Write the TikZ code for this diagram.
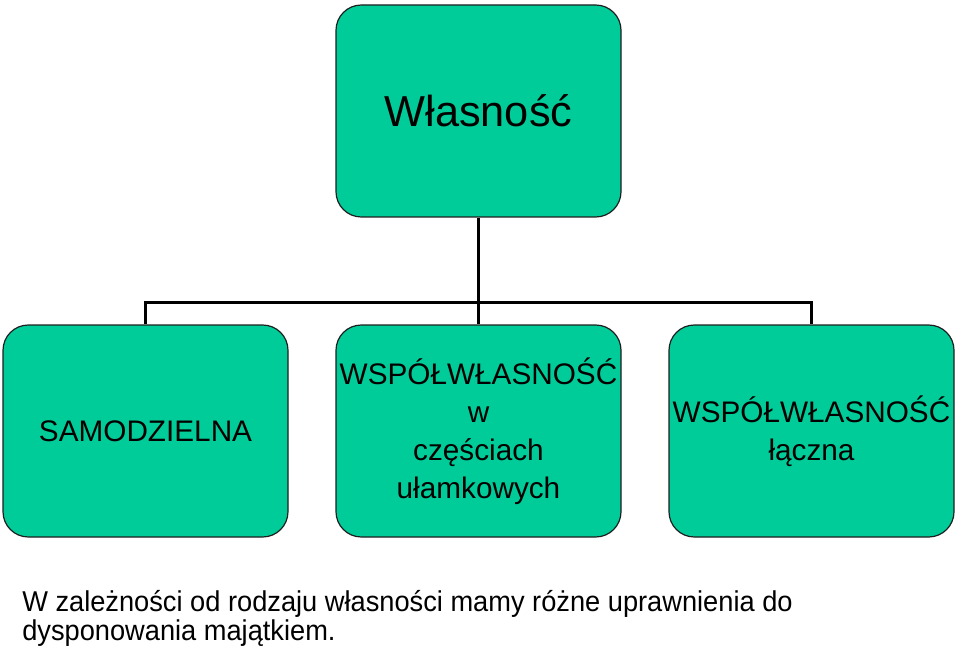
\documentclass[tikz,border=0pt]{standalone}
\usepackage{fontspec}
\setmainfont{Liberation Sans}
\newfontfamily\notefont[FakeStretch=0.95]{Liberation Sans}
\definecolor{boxgreen}{RGB}{0,204,153}
\definecolor{boxline}{RGB}{30,30,30}
\begin{document}
\begin{tikzpicture}[x=0.75pt,y=-0.75pt,
  box/.style={draw=boxline, line width=0.9pt, fill=boxgreen, rounded corners=19pt,
    minimum width=213.75pt, minimum height=159pt, inner sep=0pt, align=center,
    font=\fontsize{22.3pt}{28.5pt}\selectfont},
  conn/.style={line width=2.25pt, line join=miter, draw=black}]
\useasboundingbox (0,0) rectangle (959,652);
\node[box, font=\fontsize{32.5pt}{36pt}\selectfont] (top) at (478.5,111) {Własność};
\node[box] (b1) at (145.5,431) {SAMODZIELNA};
\node[box] (b2) at (478.5,431) {WSPÓŁWŁASNOŚĆ\\w\\częściach\\ułamkowych};
\node[box] (b3) at (811.5,431) {WSPÓŁWŁASNOŚĆ\\łączna};
\coordinate (j) at (478.5,302);
\draw[conn] (top.south) -- (b2.north);
\draw[conn] (b1.north) |- (j) -| (b3.north);
\node[anchor=base west, align=left, inner sep=0pt,
  font=\notefont\fontsize{21.5pt}{21.75pt}\selectfont] (note) at (22,640)
  {W zależności od rodzaju własności mamy różne uprawnienia do\\dysponowania majątkiem.};
\end{tikzpicture}
\end{document}
